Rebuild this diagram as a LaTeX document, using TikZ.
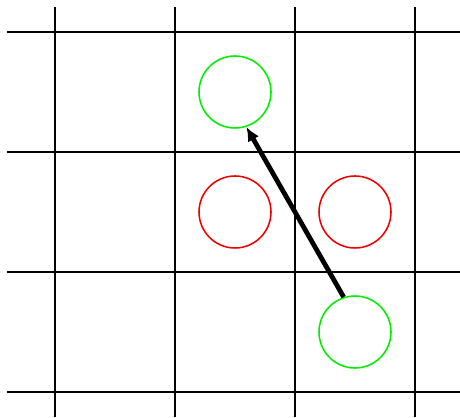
\documentclass[tikz,border=0pt]{standalone}
\usepackage{tikz}
\usetikzlibrary{arrows.meta, positioning}
\definecolor{brightgreen}{HTML}{00EE00}
\definecolor{brightred}{HTML}{EE0000}

\begin{document}
\begin{tikzpicture}[
  gridline/.style={black, line width=1.3pt},
  goal/.style={circle, draw=brightgreen, line width=1.1pt,
    minimum size=1.8cm, inner sep=0pt},
  block/.style={circle, draw=brightred, line width=1.1pt,
    minimum size=1.8cm, inner sep=0pt},
  arr/.style={-{Latex[length=10pt, width=9pt]}, black, line width=3.4pt},
]
\useasboundingbox (0, 0) rectangle (11.5, 10.425);
% grid
\foreach \x in {1.375, 4.375, 7.375, 10.375}
  \draw[gridline] (\x, 0) -- (\x, 10.25);
\foreach \y in {0.625, 3.625, 6.625, 9.625}
  \draw[gridline] (0.175, \y) -- (11.5, \y);
% circles
\node[goal]  (top)   at (5.875, 8.125) {};
\node[block] (left)  at (5.875, 5.125) {};
\node[block] (right) at (8.875, 5.125) {};
\node[goal]  (start) at (8.875, 2.125) {};
% move
\draw[arr] (start.108) -- (top.-72);
\end{tikzpicture}
\end{document}
